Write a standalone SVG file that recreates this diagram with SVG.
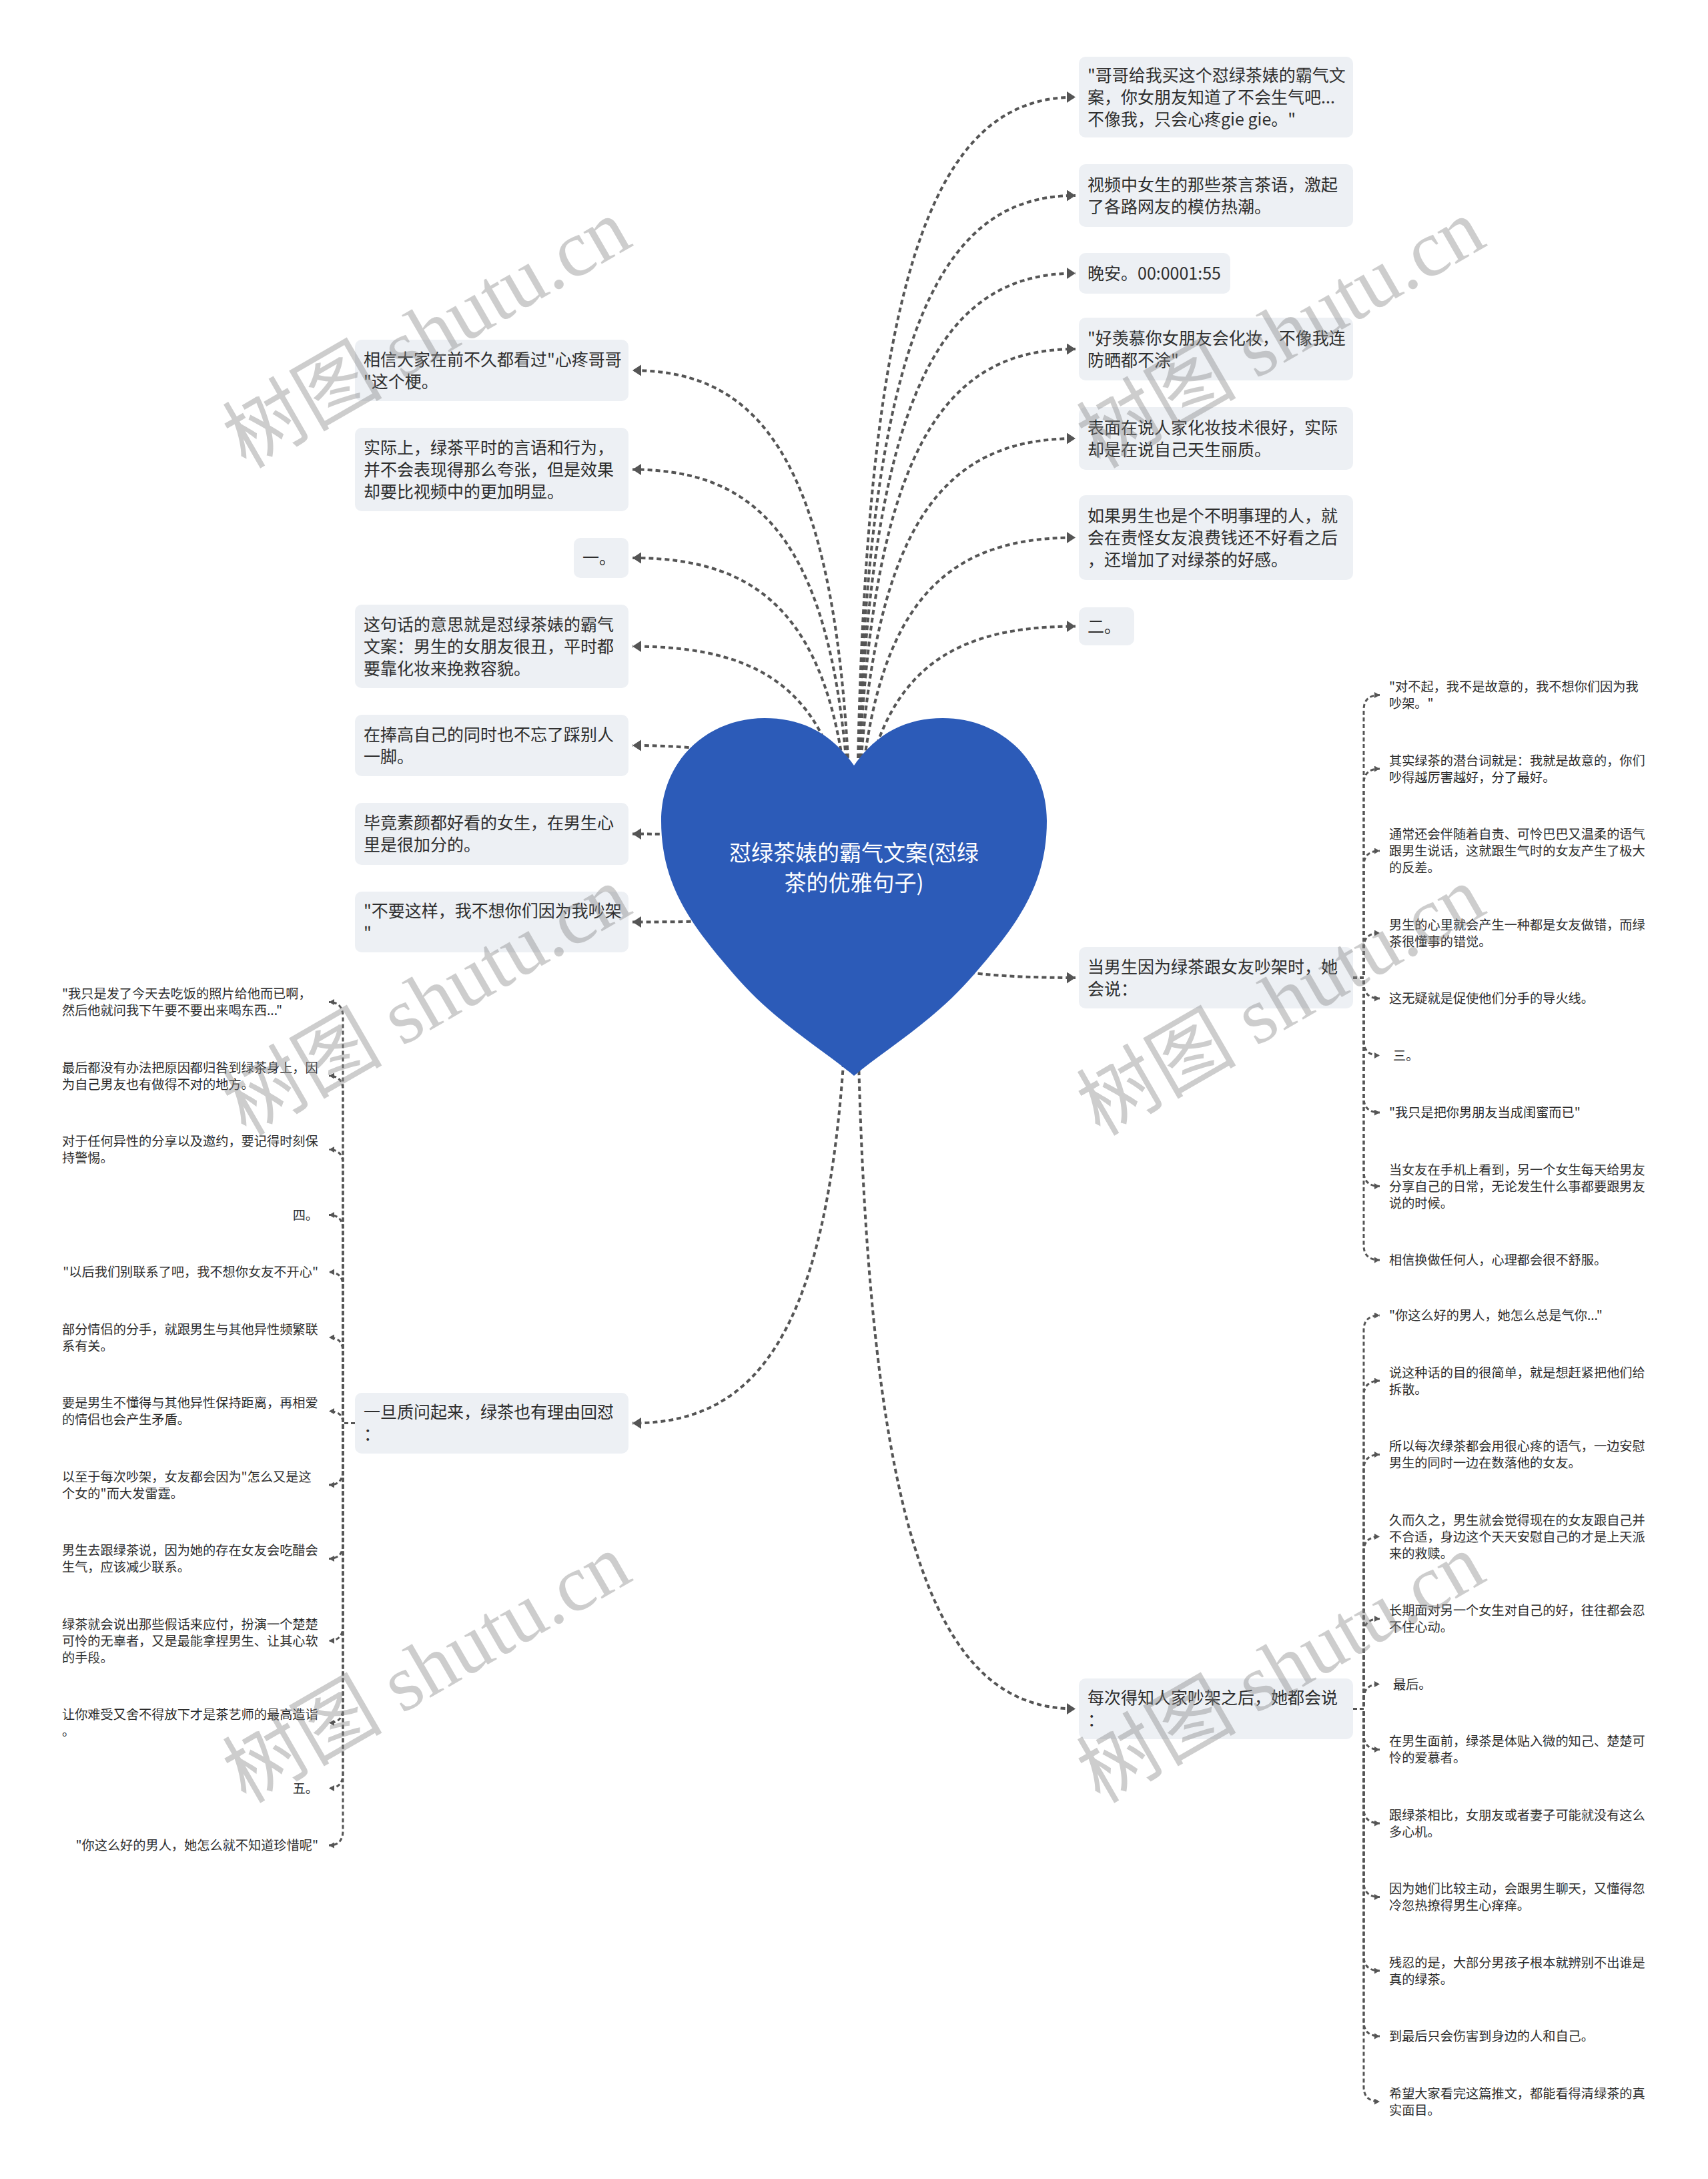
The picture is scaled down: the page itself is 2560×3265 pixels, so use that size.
<svg xmlns="http://www.w3.org/2000/svg" width="2560" height="3265" viewBox="0 0 2560 3265">
<style>
.bg{fill:#ffffff}
.box{fill:#edf0f4}
.t{font-family:"Noto Sans CJK SC","Liberation Sans",sans-serif;font-size:25px;fill:#2e2e2e}
.s{font-family:"Noto Sans CJK SC","Liberation Sans",sans-serif;font-size:19.2px;fill:#2e2e2e}
.ht{font-family:"Noto Sans CJK SC","Liberation Sans",sans-serif;font-size:33px;fill:#ffffff;text-anchor:middle}
.c{fill:none;stroke:#555555;stroke-width:4;stroke-dasharray:7 5;marker-end:url(#ah)}
.b{fill:none;stroke:#555555;stroke-width:3;stroke-dasharray:6 4;marker-end:url(#as)}
.wm{font-family:"Liberation Serif","Noto Sans CJK SC",serif;font-size:120px;fill:#888888;fill-opacity:0.42;text-anchor:middle}
</style>
<defs>
<marker id="ah" markerUnits="userSpaceOnUse" markerWidth="14" markerHeight="18" refX="13" refY="8.5" orient="auto"><path d="M0,0 L13,8.5 L0,17 Z" fill="#555555"/></marker>
<marker id="as" markerUnits="userSpaceOnUse" markerWidth="9" markerHeight="10" refX="8" refY="4.5" orient="auto"><path d="M0,0 L8,4.5 L0,9 Z" fill="#555555"/></marker>
</defs>
<rect class="bg" x="0" y="0" width="2560" height="3265"/>

<g id="connectors">
<path class="c" d="M1284,1340 C1284,384 1405,145.5 1612,145.5"/>
<path class="c" d="M1284,1340 C1284,502 1405,293 1612,293"/>
<path class="c" d="M1284,1340 C1284,596 1405,409.5 1612,409.5"/>
<path class="c" d="M1284,1340 C1284,686 1405,523 1612,523"/>
<path class="c" d="M1284,1340 C1284,794 1405,657 1612,657"/>
<path class="c" d="M1284,1340 C1284,912 1405,805.5 1612,805.5"/>
<path class="c" d="M1284,1340 C1284,1019 1405,938.5 1612,938.5"/>
<path class="c" d="M1284,1340 C1284,1440 1405,1465 1612,1465"/>
<path class="c" d="M1284,1340 C1284,2316 1405,2560.5 1612,2560.5"/>
<path class="c" d="M1276,1340 C1276,712 1155,555 948,555"/>
<path class="c" d="M1276,1340 C1276,831 1155,703.5 948,703.5"/>
<path class="c" d="M1276,1340 C1276,937 1155,836 948,836"/>
<path class="c" d="M1276,1340 C1276,1043 1155,968.5 948,968.5"/>
<path class="c" d="M1276,1340 C1276,1162 1155,1117 948,1117"/>
<path class="c" d="M1276,1340 C1276,1268 1155,1249.5 948,1249.5"/>
<path class="c" d="M1276,1340 C1276,1373 1155,1381.5 948,1381.5"/>
<path class="c" d="M1272,1340 C1272,1974 1152,2132.5 948,2132.5"/>

<path class="b" d="M2028,1465 H2044 V1063.5 Q2044,1041.5 2068,1041.5"/>
<path class="b" d="M2028,1465 H2044 V1174 Q2044,1152 2068,1152"/>
<path class="b" d="M2028,1465 H2044 V1297 Q2044,1275 2068,1275"/>
<path class="b" d="M2028,1465 H2044 V1420 Q2044,1398 2068,1398"/>
<path class="b" d="M2028,1465 H2044 V1474 Q2044,1496 2068,1496"/>
<path class="b" d="M2028,1465 H2044 V1559.5 Q2044,1581.5 2068,1581.5"/>
<path class="b" d="M2028,1465 H2044 V1645 Q2044,1667 2068,1667"/>
<path class="b" d="M2028,1465 H2044 V1755.5 Q2044,1777.5 2068,1777.5"/>
<path class="b" d="M2028,1465 H2044 V1866 Q2044,1888 2068,1888"/>

<path class="b" d="M2028,2560.5 H2044 V1993 Q2044,1971 2068,1971"/>
<path class="b" d="M2028,2560.5 H2044 V2091 Q2044,2069 2068,2069"/>
<path class="b" d="M2028,2560.5 H2044 V2201.5 Q2044,2179.5 2068,2179.5"/>
<path class="b" d="M2028,2560.5 H2044 V2324.5 Q2044,2302.5 2068,2302.5"/>
<path class="b" d="M2028,2560.5 H2044 V2447.5 Q2044,2425.5 2068,2425.5"/>
<path class="b" d="M2028,2560.5 H2044 V2545.5 Q2044,2523.5 2068,2523.5"/>
<path class="b" d="M2028,2560.5 H2044 V2599.5 Q2044,2621.5 2068,2621.5"/>
<path class="b" d="M2028,2560.5 H2044 V2710 Q2044,2732 2068,2732"/>
<path class="b" d="M2028,2560.5 H2044 V2820.5 Q2044,2842.5 2068,2842.5"/>
<path class="b" d="M2028,2560.5 H2044 V2931 Q2044,2953 2068,2953"/>
<path class="b" d="M2028,2560.5 H2044 V3029 Q2044,3051 2068,3051"/>
<path class="b" d="M2028,2560.5 H2044 V3127 Q2044,3149 2068,3149"/>

<path class="b" d="M532,2132.5 H514 V1523.5 Q514,1501.5 493,1501.5"/>
<path class="b" d="M532,2132.5 H514 V1634 Q514,1612 493,1612"/>
<path class="b" d="M532,2132.5 H514 V1744.5 Q514,1722.5 493,1722.5"/>
<path class="b" d="M532,2132.5 H514 V1842.5 Q514,1820.5 493,1820.5"/>
<path class="b" d="M532,2132.5 H514 V1928 Q514,1906 493,1906"/>
<path class="b" d="M532,2132.5 H514 V2026 Q514,2004 493,2004"/>
<path class="b" d="M532,2132.5 H514 Q514,2114.5 493,2114.5"/>
<path class="b" d="M532,2132.5 H514 V2203 Q514,2225 493,2225"/>
<path class="b" d="M532,2132.5 H514 V2313.5 Q514,2335.5 493,2335.5"/>
<path class="b" d="M532,2132.5 H514 V2436.5 Q514,2458.5 493,2458.5"/>
<path class="b" d="M532,2132.5 H514 V2559.5 Q514,2581.5 493,2581.5"/>
<path class="b" d="M532,2132.5 H514 V2657.5 Q514,2679.5 493,2679.5"/>
<path class="b" d="M532,2132.5 H514 V2743 Q514,2765 493,2765"/>
</g>

<g id="root">
<path d="M1280,1147 C1245,1097 1200,1076 1146,1076 C1060,1076 991,1140 991,1230 C991,1330 1040,1390 1100,1460 C1160,1530 1230,1570 1280,1612 C1330,1570 1400,1530 1460,1460 C1520,1390 1569,1330 1569,1230 C1569,1140 1500,1076 1413,1076 C1360,1076 1315,1097 1280,1147 Z" fill="#2c5bb8"/>
<text class="ht"><tspan x="1280" y="1290">怼绿茶婊的霸气文案(怼绿</tspan><tspan x="1280" y="1335">茶的优雅句子)</tspan></text>
</g>

<g id="r1"><rect class="box" x="1617" y="85" width="411" height="121" rx="10"/><text class="t"><tspan x="1630" y="122">"哥哥给我买这个怼绿茶婊的霸气文</tspan><tspan x="1630" y="155">案，你女朋友知道了不会生气吧...</tspan><tspan x="1630" y="188">不像我，只会心疼gie gie。"</tspan></text></g>
<g id="r2"><rect class="box" x="1617" y="246" width="411" height="94" rx="10"/><text class="t"><tspan x="1630" y="286">视频中女生的那些茶言茶语，激起</tspan><tspan x="1630" y="319">了各路网友的模仿热潮。</tspan></text></g>
<g id="r3"><rect class="box" x="1617" y="379" width="227" height="61" rx="10"/><text class="t" x="1630" y="419">晚安。00:0001:55</text></g>
<g id="r4"><rect class="box" x="1617" y="476" width="411" height="94" rx="10"/><text class="t"><tspan x="1630" y="516">"好羡慕你女朋友会化妆，不像我连</tspan><tspan x="1630" y="549">防晒都不涂"</tspan></text></g>
<g id="r5"><rect class="box" x="1617" y="610" width="411" height="94" rx="10"/><text class="t"><tspan x="1630" y="650">表面在说人家化妆技术很好，实际</tspan><tspan x="1630" y="683">却是在说自己天生丽质。</tspan></text></g>
<g id="r6"><rect class="box" x="1617" y="742" width="411" height="127" rx="10"/><text class="t"><tspan x="1630" y="782">如果男生也是个不明事理的人，就</tspan><tspan x="1630" y="815">会在责怪女友浪费钱还不好看之后</tspan><tspan x="1630" y="848">，还增加了对绿茶的好感。</tspan></text></g>
<g id="r7"><rect class="box" x="1617" y="910" width="83" height="57" rx="10"/><text class="t" x="1630" y="948">二。</text></g>
<g id="rm"><rect class="box" x="1617" y="1419" width="411" height="92" rx="10"/><text class="t"><tspan x="1630" y="1458">当男生因为绿茶跟女友吵架时，她</tspan><tspan x="1630" y="1491">会说：</tspan></text></g>
<g id="rb"><rect class="box" x="1617" y="2515" width="411" height="91" rx="10"/><text class="t"><tspan x="1630" y="2553">每次得知人家吵架之后，她都会说</tspan><tspan x="1630" y="2586">：</tspan></text></g>

<g id="l1"><rect class="box" x="532" y="509" width="410" height="92" rx="10"/><text class="t"><tspan x="545" y="548">相信大家在前不久都看过"心疼哥哥</tspan><tspan x="545" y="581">"这个梗。</tspan></text></g>
<g id="l2"><rect class="box" x="532" y="641" width="410" height="125" rx="10"/><text class="t"><tspan x="545" y="680">实际上，绿茶平时的言语和行为，</tspan><tspan x="545" y="713">并不会表现得那么夸张，但是效果</tspan><tspan x="545" y="746">却要比视频中的更加明显。</tspan></text></g>
<g id="l3"><rect class="box" x="860" y="806" width="82" height="60" rx="10"/><text class="t" x="873" y="845">一。</text></g>
<g id="l4"><rect class="box" x="532" y="906" width="410" height="125" rx="10"/><text class="t"><tspan x="545" y="945">这句话的意思就是怼绿茶婊的霸气</tspan><tspan x="545" y="978">文案：男生的女朋友很丑，平时都</tspan><tspan x="545" y="1011">要靠化妆来挽救容貌。</tspan></text></g>
<g id="l5"><rect class="box" x="532" y="1071" width="410" height="92" rx="10"/><text class="t"><tspan x="545" y="1110">在捧高自己的同时也不忘了踩别人</tspan><tspan x="545" y="1143">一脚。</tspan></text></g>
<g id="l6"><rect class="box" x="532" y="1203" width="410" height="93" rx="10"/><text class="t"><tspan x="545" y="1242">毕竟素颜都好看的女生，在男生心</tspan><tspan x="545" y="1275">里是很加分的。</tspan></text></g>
<g id="l7"><rect class="box" x="532" y="1336" width="410" height="91" rx="10"/><text class="t"><tspan x="545" y="1374">"不要这样，我不想你们因为我吵架</tspan><tspan x="545" y="1407">"</tspan></text></g>
<g id="lb"><rect class="box" x="532" y="2087" width="410" height="91" rx="10"/><text class="t"><tspan x="545" y="2125">一旦质问起来，绿茶也有理由回怼</tspan><tspan x="545" y="2158">：</tspan></text></g>

<g id="ra">
<text class="s"><tspan x="2082" y="1036">"对不起，我不是故意的，我不想你们因为我</tspan><tspan x="2082" y="1061">吵架。"</tspan></text>
<text class="s"><tspan x="2082" y="1146.5">其实绿茶的潜台词就是：我就是故意的，你们</tspan><tspan x="2082" y="1171.5">吵得越厉害越好，分了最好。</tspan></text>
<text class="s"><tspan x="2082" y="1257">通常还会伴随着自责、可怜巴巴又温柔的语气</tspan><tspan x="2082" y="1282">跟男生说话，这就跟生气时的女友产生了极大</tspan><tspan x="2082" y="1307">的反差。</tspan></text>
<text class="s"><tspan x="2082" y="1392.5">男生的心里就会产生一种都是女友做错，而绿</tspan><tspan x="2082" y="1417.5">茶很懂事的错觉。</tspan></text>
<text class="s" x="2082" y="1503">这无疑就是促使他们分手的导火线。</text>
<text class="s" x="2088" y="1588.5">三。</text>
<text class="s" x="2082" y="1674">"我只是把你男朋友当成闺蜜而已"</text>
<text class="s"><tspan x="2082" y="1759.5">当女友在手机上看到，另一个女生每天给男友</tspan><tspan x="2082" y="1784.5">分享自己的日常，无论发生什么事都要跟男友</tspan><tspan x="2082" y="1809.5">说的时候。</tspan></text>
<text class="s" x="2082" y="1895">相信换做任何人，心理都会很不舒服。</text>
</g>

<g id="rbb">
<text class="s" x="2082" y="1978">"你这么好的男人，她怎么总是气你..."</text>
<text class="s"><tspan x="2082" y="2063.5">说这种话的目的很简单，就是想赶紧把他们给</tspan><tspan x="2082" y="2088.5">拆散。</tspan></text>
<text class="s"><tspan x="2082" y="2174">所以每次绿茶都会用很心疼的语气，一边安慰</tspan><tspan x="2082" y="2199">男生的同时一边在数落他的女友。</tspan></text>
<text class="s"><tspan x="2082" y="2284.5">久而久之，男生就会觉得现在的女友跟自己并</tspan><tspan x="2082" y="2309.5">不合适，身边这个天天安慰自己的才是上天派</tspan><tspan x="2082" y="2334.5">来的救赎。</tspan></text>
<text class="s"><tspan x="2082" y="2420">长期面对另一个女生对自己的好，往往都会忍</tspan><tspan x="2082" y="2445">不住心动。</tspan></text>
<text class="s" x="2088" y="2530.5">最后。</text>
<text class="s"><tspan x="2082" y="2616">在男生面前，绿茶是体贴入微的知己、楚楚可</tspan><tspan x="2082" y="2641">怜的爱慕者。</tspan></text>
<text class="s"><tspan x="2082" y="2726.5">跟绿茶相比，女朋友或者妻子可能就没有这么</tspan><tspan x="2082" y="2751.5">多心机。</tspan></text>
<text class="s"><tspan x="2082" y="2837">因为她们比较主动，会跟男生聊天，又懂得忽</tspan><tspan x="2082" y="2862">冷忽热撩得男生心痒痒。</tspan></text>
<text class="s"><tspan x="2082" y="2947.5">残忍的是，大部分男孩子根本就辨别不出谁是</tspan><tspan x="2082" y="2972.5">真的绿茶。</tspan></text>
<text class="s" x="2082" y="3058">到最后只会伤害到身边的人和自己。</text>
<text class="s"><tspan x="2082" y="3143.5">希望大家看完这篇推文，都能看得清绿茶的真</tspan><tspan x="2082" y="3168.5">实面目。</tspan></text>
</g>

<g id="lc">
<text class="s"><tspan x="93" y="1496">"我只是发了今天去吃饭的照片给他而已啊，</tspan><tspan x="93" y="1521">然后他就问我下午要不要出来喝东西..."</tspan></text>
<text class="s"><tspan x="93" y="1606.5">最后都没有办法把原因都归咎到绿茶身上，因</tspan><tspan x="93" y="1631.5">为自己男友也有做得不对的地方。</tspan></text>
<text class="s"><tspan x="93" y="1717">对于任何异性的分享以及邀约，要记得时刻保</tspan><tspan x="93" y="1742">持警惕。</tspan></text>
<text class="s" x="477" y="1827.5" text-anchor="end">四。</text>
<text class="s" x="477" y="1913" text-anchor="end">"以后我们别联系了吧，我不想你女友不开心"</text>
<text class="s"><tspan x="93" y="1998.5">部分情侣的分手，就跟男生与其他异性频繁联</tspan><tspan x="93" y="2023.5">系有关。</tspan></text>
<text class="s"><tspan x="93" y="2109">要是男生不懂得与其他异性保持距离，再相爱</tspan><tspan x="93" y="2134">的情侣也会产生矛盾。</tspan></text>
<text class="s"><tspan x="93" y="2219.5">以至于每次吵架，女友都会因为"怎么又是这</tspan><tspan x="93" y="2244.5">个女的"而大发雷霆。</tspan></text>
<text class="s"><tspan x="93" y="2330">男生去跟绿茶说，因为她的存在女友会吃醋会</tspan><tspan x="93" y="2355">生气，应该减少联系。</tspan></text>
<text class="s"><tspan x="93" y="2440.5">绿茶就会说出那些假话来应付，扮演一个楚楚</tspan><tspan x="93" y="2465.5">可怜的无辜者，又是最能拿捏男生、让其心软</tspan><tspan x="93" y="2490.5">的手段。</tspan></text>
<text class="s"><tspan x="93" y="2576">让你难受又舍不得放下才是茶艺师的最高造诣</tspan><tspan x="93" y="2601">。</tspan></text>
<text class="s" x="477" y="2686.5" text-anchor="end">五。</text>
<text class="s" x="477" y="2772" text-anchor="end">"你这么好的男人，她怎么就不知道珍惜呢"</text>
</g>

<g id="watermarks">
<text class="wm" transform="translate(660,535) rotate(-30)">树图 shutu.cn</text>
<text class="wm" transform="translate(1940,535) rotate(-30)">树图 shutu.cn</text>
<text class="wm" transform="translate(660,1535) rotate(-30)">树图 shutu.cn</text>
<text class="wm" transform="translate(1940,1535) rotate(-30)">树图 shutu.cn</text>
<text class="wm" transform="translate(660,2535) rotate(-30)">树图 shutu.cn</text>
<text class="wm" transform="translate(1940,2535) rotate(-30)">树图 shutu.cn</text>
</g>
</svg>
